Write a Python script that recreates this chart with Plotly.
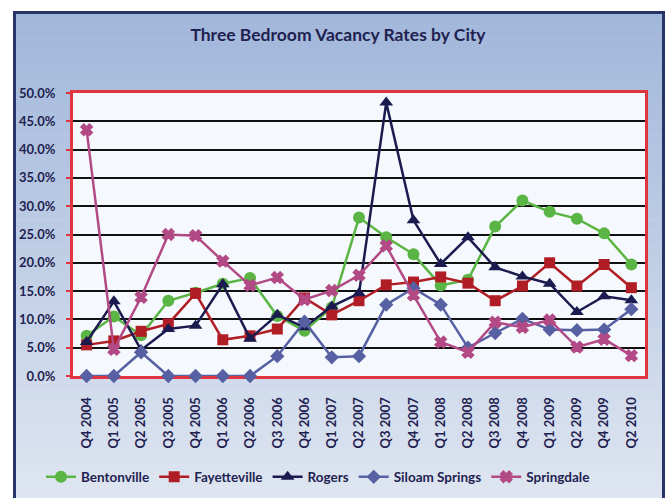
import plotly.graph_objects as go

# ---------------- data ----------------
quarters = ["Q4 2004", "Q1 2005", "Q2 2005", "Q3 2005", "Q4 2005", "Q1 2006", "Q2 2006",
            "Q3 2006", "Q4 2006", "Q1 2007", "Q2 2007", "Q3 2007", "Q4 2007", "Q1 2008",
            "Q2 2008", "Q3 2008", "Q4 2008", "Q1 2009", "Q2 2009", "Q4 2009", "Q2 2010"]

bentonville = [7.1, 10.5, 7.2, 13.3, 14.7, 16.3, 17.3, 10.6, 8.0, 12.1, 28.0, 24.5, 21.5,
               16.0, 17.0, 26.4, 31.0, 29.0, 27.8, 25.2, 19.7]
fayetteville = [5.5, 6.2, 7.9, 9.2, 14.6, 6.4, 7.1, 8.3, 13.8, 10.8, 13.3, 16.1, 16.6,
                17.5, 16.4, 13.3, 15.9, 20.0, 15.9, 19.7, 15.6]
rogers = [6.0, 13.2, 4.6, 8.3, 8.9, 16.2, 6.6, 10.8, 8.6, 12.3, 14.6, 48.3, 27.5,
          19.8, 24.5, 19.2, 17.6, 16.3, 11.3, 14.1, 13.4]
siloam = [0.0, 0.0, 4.2, 0.0, 0.0, 0.0, 0.0, 3.5, 9.6, 3.3, 3.5, 12.6, 15.5,
          12.6, 5.0, 7.6, 10.1, 8.2, 8.1, 8.2, 11.8]
springdale = [43.5, 4.7, 13.9, 25.0, 24.8, 20.3, 16.0, 17.4, 13.5, 15.1, 17.8, 23.0, 14.3,
              6.0, 4.2, 9.5, 8.6, 9.9, 5.1, 6.5, 3.6]

series_names = ["Bentonville", "Fayetteville", "Rogers", "Siloam Springs", "Springdale"]
series_values = [bentonville, fayetteville, rogers, siloam, springdale]
series_colors = ["#5bb544", "#b01d25", "#1c1b4f", "#5660a2", "#b24a86"]
series_symbols = ["circle", "square", "triangle-up", "diamond", "x"]
series_sizes = [12, 11, 12, 11, 10]

# ---------------- layout geometry ----------------
W_FIG, H_FIG = 667, 498
L, R, T, B = 73, 22, 93, 122
PW = W_FIG - L - R
PH = H_FIG - T - B


def px_x(px):
    return (px - L) / PW


def px_y(py):
    return (H_FIG - B - py) / PH


text_color = "#1f2250"
font_family = "Lato, 'Open Sans', sans-serif"

fig = go.Figure()

for name, vals, col, sym, sz in zip(series_names, series_values, series_colors,
                                    series_symbols, series_sizes):
    fig.add_trace(go.Scatter(
        x=quarters, y=[v / 100 for v in vals], name=name, mode="lines+markers",
        line=dict(color=col, width=2.5),
        marker=dict(symbol=sym, size=sz, color=col,
                    line=dict(color=col, width=1.5 if sym == "x" else 0)),
        cliponaxis=False,
    ))

# ---------------- background shapes ----------------
shapes = []
top_c = (161, 183, 218)
bot_c = (222, 229, 241)
n = 40
y_top, y_bot = 13, 498
for i in range(n):
    f = i / (n - 1)
    c = tuple(int(round(top_c[k] + (bot_c[k] - top_c[k]) * f)) for k in range(3))
    y0 = y_top + (y_bot - y_top) * i / n
    y1 = y_top + (y_bot - y_top) * (i + 1) / n
    shapes.append(dict(type="rect", xref="paper", yref="paper", layer="below",
                       x0=px_x(15), x1=px_x(663), y0=px_y(y1 + 0.5), y1=px_y(y0),
                       fillcolor="rgb(%d,%d,%d)" % c, line=dict(width=0)))
# plot area fill
shapes.append(dict(type="rect", xref="paper", yref="paper", layer="below",
                   x0=0, x1=1, y0=0, y1=1, fillcolor="#f5f9fd", line=dict(width=0)))
# outer navy frame (left, top, right)
shapes.append(dict(type="line", xref="paper", yref="paper", layer="above",
                   x0=px_x(14.5), x1=px_x(14.5), y0=px_y(498), y1=px_y(12),
                   line=dict(color="#283468", width=3)))
shapes.append(dict(type="line", xref="paper", yref="paper", layer="above",
                   x0=px_x(13), x1=px_x(665), y0=px_y(12.5), y1=px_y(12.5),
                   line=dict(color="#283468", width=3)))
shapes.append(dict(type="line", xref="paper", yref="paper", layer="above",
                   x0=px_x(663.5), x1=px_x(663.5), y0=px_y(498), y1=px_y(12),
                   line=dict(color="#283468", width=3)))

fig.update_layout(
    width=W_FIG, height=H_FIG,
    margin=dict(l=L, r=R, t=T, b=B),
    paper_bgcolor="white",
    plot_bgcolor="rgba(0,0,0,0)",
    shapes=shapes,
    title=dict(text="Three Bedroom Vacancy Rates by City", x=338 / W_FIG, xref="container",
               xanchor="center", y=1 - 35 / H_FIG, yanchor="middle",
               font=dict(family=font_family, size=17.5, color=text_color, weight="bold")),
    font=dict(family=font_family, size=13, color=text_color, weight="bold"),
    showlegend=True,
    legend=dict(orientation="h", xref="container", yref="container",
                x=318 / W_FIG, xanchor="center", y=1 - 477 / H_FIG, yanchor="middle",
                bgcolor="rgba(0,0,0,0)", font=dict(size=13.5, color=text_color, weight="bold"),
                itemwidth=30, tracegroupgap=0),
    xaxis=dict(type="category", range=[-0.5, len(quarters) - 0.5], tickangle=-90,
               showgrid=False, zeroline=False, showline=True, mirror=True,
               linecolor="#e0343e", linewidth=3, ticks="", layer="below traces",
               ticklabelstandoff=13, automargin=False,
               tickfont=dict(size=13, color=text_color, weight="bold")),
    yaxis=dict(range=[0, 0.5], dtick=0.05, tickformat=".1%", showgrid=True,
               gridcolor="#111111", gridwidth=2, zeroline=False, showline=True,
               mirror=True, linecolor="#e0343e", linewidth=3, ticks="outside",
               tickcolor="#e0343e", ticklen=4, tickwidth=2, layer="below traces",
               ticklabelstandoff=8, automargin=False,
               tickfont=dict(size=13, color=text_color, weight="bold")),
)

fig.write_html("out.html", config={"displayModeBar": False},
               post_script="document.body.style.margin='0';document.body.style.padding='0';")
